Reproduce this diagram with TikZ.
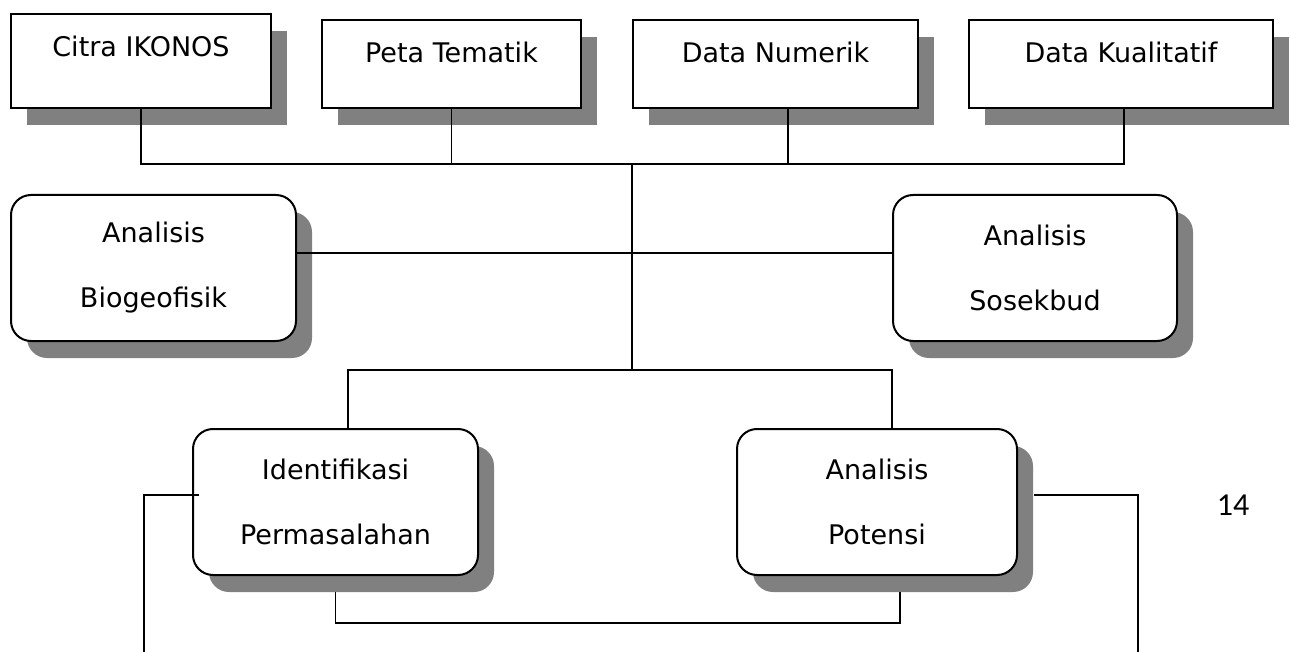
\documentclass[tikz,border=0pt]{standalone}
\usepackage{fontspec}
\setmainfont{DejaVu Sans}
\newfontfamily\pagenumfont{Carlito}
\usetikzlibrary{shadows}
\definecolor{shadowgray}{HTML}{808080}
\begin{document}
\begin{tikzpicture}[x=1pt,y=-1pt,
  boxbase/.style={draw=black, line width=2pt, fill=white, inner sep=0pt, anchor=north west,
     drop shadow={shadow xshift=16pt, shadow yshift=-17pt, fill=shadowgray, opacity=1}},
  sqbox/.style={boxbase, rectangle},
  rbox/.style={boxbase, rectangle, rounded corners=20pt, align=center, font=\fontsize{27}{65}\selectfont},
  lbl/.style={font=\fontsize{27}{32}\selectfont, inner sep=0pt},
  conn/.style={line width=1.5pt}
]
\useasboundingbox (0,0) rectangle (1290,652);

% top row
\node[sqbox, minimum width=260pt, minimum height=94pt] (A) at (10,13) {};
\node[sqbox, minimum width=259pt, minimum height=88pt] (B) at (321,19) {};
\node[sqbox, minimum width=285pt, minimum height=88pt] (C) at (632,19) {};
\node[sqbox, minimum width=304pt, minimum height=88pt] (D) at (968,19) {};
\node[lbl] (At) at ([yshift=-33pt]A.north) {Citra IKONOS};
\node[lbl] (Bt) at ([yshift=-33pt]B.north) {Peta Tematik};
\node[lbl] (Ct) at ([yshift=-33pt]C.north) {Data Numerik};
\node[lbl] (Dt) at ([yshift=-33pt]D.north) {Data Kualitatif};

% middle row
\node[rbox, minimum width=285pt, minimum height=146pt] (E) at (10,194) {Analisis\\Biogeofisik};
\node[rbox, minimum width=284pt, minimum height=146pt] (F) at (892,194) {Analisis\\Sosekbud};

% lower row
\node[rbox, minimum width=285pt, minimum height=146pt] (G) at (192,428) {Identifikasi\\Permasalahan};
\node[rbox, minimum width=280pt, minimum height=146pt] (H) at (736,428) {Analisis\\Potensi};

\node[font=\pagenumfont\fontsize{32}{38}\selectfont] (pn) at (1233,505) {14};

\coordinate (hub) at (632,164);
\coordinate (split) at (632,370);
\coordinate (leftend) at (144,652);
\coordinate (rightend) at (1138,652);

% connectors
\draw[conn] (A.south) -- (A.south |- hub) -- ([xshift=3pt]D.south |- hub) -- ([xshift=3pt]D.south);
\draw[conn] (B.south) -- (B.south |- hub);
\draw[conn] ([xshift=12.5pt]C.south) -- ([xshift=12.5pt]C.south |- hub);
\draw[conn] (hub) -- (split);
\draw[conn] ([yshift=15pt]E.east) -- ([yshift=15pt]F.west);
\draw[conn] ([xshift=12.5pt]G.north) |- (split) -| ([xshift=15pt]H.north);
\draw[conn] ([yshift=-16pt]G.south) -- ++(0,31) -| ([shift={(23pt,-16pt)}]H.south);
\draw[conn] ([shift={(7pt,7pt)}]G.west) -| (leftend);
\draw[conn] ([shift={(16pt,7pt)}]H.east) -| (rightend);
\end{tikzpicture}
\end{document}
